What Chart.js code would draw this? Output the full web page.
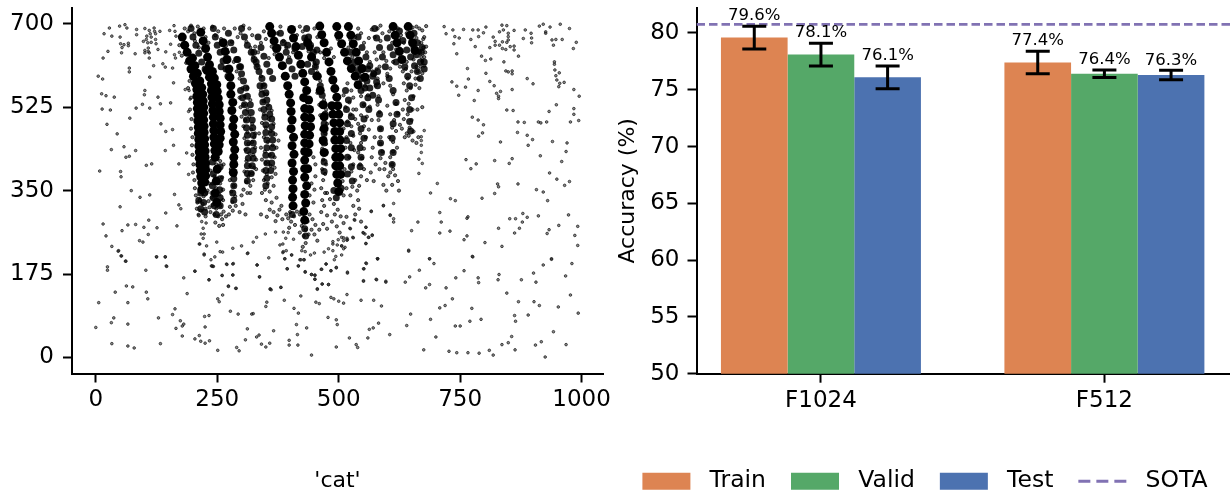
<!DOCTYPE html>
<html>
<head>
<meta charset="utf-8">
<script src="https://cdn.jsdelivr.net/npm/chart.js@4/dist/chart.umd.js"></script>
<style>
html, body { margin: 0; padding: 0; background: #fff; overflow: hidden; width: 1230px; height: 494px; }
canvas { position: absolute; top: 0; }
#scatter-chart { left: 0; }
#accuracy-chart { left: 605px; }
</style>
</head>
<body>
<canvas id="accuracy-chart" width="640" height="503"></canvas>
<canvas id="scatter-chart" width="615" height="494"></canvas>
<script>
// scatter values, flat x,y pairs
const catSparse = [
6,115, 0,63, 24,190, 24,183, 40,137, 32,73, 37,83, 33,29, 63,150, 76,148, 62,202, 52,213, 46,223, 66,115, 66,70, 66,24, 79,20, 103,183, 104,137, 107,123,
125,211, 143,211, 146,191, 129,83, 133,29, 158,90, 163,102, 165,61, 174,77, 178,66, 181,70, 178,45, 181,167, 188,134, 204,181, 204,39, 213,46, 216,34, 225,30, 224,86,
233,88, 225,64, 234,35, 233,163, 238,192, 241,191, 251,15, 251,123, 254,117, 261,131, 260,172, 270,195, 282,196, 282,173, 273,149, 288,145, 277,97, 293,91, 290,21, 295,14,
308,37, 312,60, 321,91, 324,92, 312,218, 332,194, 337,169, 331,43, 336,47, 341,28, 350,22, 358,30, 350,107, 352,116, 359,143, 361,142, 366,56, 381,147, 388,120, 398,36,
398,26, 408,103, 417,93, 413,69, 415,48, 416,26, 434,62, 422,129, 431,179, 444,5, 394,186, 417,192, 422,205, 428,205, 389,207, 403,215, 444,174, 451,172, 451,164, 456,143,
466,154, 479,153, 453,116, 460,113, 484,126, 490,123, 500,118, 510,114, 478,84, 495,79, 497,69, 495,22, 522,41, 536,27, 539,21, 517,132, 518,177, 465,185, 474,196, 484,182,
495,188, 546,120, 551,160, 552,186, 557,197, 560,41, 563,59, 571,62, 572,120, 578,163, 580,207, 582,72, 588,108, 597,158, 605,48, 637,158, 646,169, 644,223, 640,67, 648,91,
666,183, 675,16, 679,146, 687,153, 687,207, 696,197, 689,80, 700,43, 708,104, 719,109, 721,146, 734,123, 727,13, 740,66, 750,66, 743,10, 741,167, 758,182, 775,212, 766,10,
770,76, 774,103, 789,9, 787,167, 788,157, 793,80, 810,15, 818,5, 830,174, 828,163, 836,27, 846,135, 849,31, 856,44, 862,88, 864,76, 863,16, 870,117, 876,163, 890,89,
901,177, 906,158, 902,117, 913,109, 905,26, 917,33, 925,1, 921,194, 938,206, 942,54, 952,106, 967,171, 968,27, 977,131, 980,197, 993,93,
717,694, 721,679, 735,687, 739,673, 737,658, 748,670, 757,688, 772,667, 776,687, 787,687, 798,681, 803,693, 788,673, 781,652, 743,637, 794,632, 802,623, 813,626, 811,650, 818,672,
822,663, 822,655, 831,655, 831,683, 836,697, 839,687, 846,696, 849,680, 849,673, 849,666, 837,662, 846,661, 837,648, 844,646, 853,652, 861,653, 861,645, 861,686, 870,632, 840,620,
880,669, 884,687, 896,680, 897,670, 897,660, 913,695, 921,699, 926,683, 926,680, 935,693, 956,699, 975,690, 939,666, 947,667, 960,667, 942,655, 989,661, 983,648,
944,620, 944,615, 945,603, 947,591, 954,597, 949,582, 955,575, 964,577, 953,568, 765,606, 803,596, 844,601, 849,599, 857,601, 857,595, 767,584, 733,578, 743,569, 761,567,
811,579, 820,570, 888,585, 900,574, 857,562, 787,560, 747,550, 825,554, 833,558, 829,548, 829,543, 779,539, 984,562, 995,548, 948,530, 984,522, 984,510, 994,497, 977,494, 933,516,
846,519, 859,518, 775,504, 787,498, 798,488, 869,494, 882,493, 911,494, 916,492, 928,494, 796,471, 788,464, 868,472, 888,466, 899,457, 890,445, 833,452, 940,453, 970,450, 968,432,
915,423, 959,411, 762,415, 772,396, 783,406, 821,413, 851,407, 857,417, 934,387, 949,374, 975,369, 965,361, 869,364, 827,364, 829,358, 821,344, 907,352, 921,347, 930,329, 795,334,
703,365, 689,345, 730,333, 740,329, 708,304, 711,284, 708,261, 729,265, 766,295, 764,292, 852,291, 864,291, 879,302, 888,294, 878,284, 911,297, 973,299, 829,271, 872,271, 862,261,
953,277, 933,268, 929,260, 992,275, 986,256, 992,235, 764,255, 758,247, 801,241, 836,233, 644,225, 776,211, 938,207, 687,207, 580,207,
676,476, 670,463, 670,455, 670,445, 670,430, 665,416, 672,407, 665,386, 613,323, 592,318, 567,306, 606,298, 613,291, 613,284, 663,284, 650,266, 556,273, 551,261, 569,256, 561,252,
556,239, 533,288, 530,251, 524,270, 510,251, 517,246, 506,234, 510,228,
28,691, 49,695, 60,698, 64,691, 17,679, 33,674, 50,672, 84,688, 84,677, 101,690, 110,686, 120,691, 121,684, 112,679, 123,679, 132,684, 105,674, 114,672, 104,667, 98,663,
114,661, 123,667, 124,658, 51,658, 58,656, 67,659, 67,654, 54,650, 107,660, 108,649, 128,646, 101,644, 108,642, 101,639, 110,639, 25,642, 53,639, 81,637, 144,641, 154,657,
152,686, 161,696, 163,684, 165,674, 172,640, 162,635, 164,628, 15,628, 110,628, 119,612, 138,616, 143,609, 158,607, 69,607, 69,599, 5,590, 14,584, 111,588, 160,576, 184,562,
101,560, 100,551, 12,553, 21,549, 38,546, 128,546, 154,534, 133,532, 96,531, 83,523, 111,523, 13,521, 30,519, 70,502, 23,489, 134,490, 158,478, 144,474, 44,469, 192,560,
194,542, 191,516, 32,436, 58,442, 82,434, 62,420, 69,422, 160,445, 143,434, 187,429, 104,403, 115,406, 171,406, 8,391, 51,390, 52,379, 191,384, 73,350, 111,341, 91,336,
162,342, 50,316, 171,320, 175,312, 144,303, 109,288, 15,280, 66,278, 82,279, 99,273, 126,272, 167,276, 54,266, 108,258, 21,255, 90,245, 97,242, 214,238, 33,233, 47,224,
53,213, 61,202, 125,211, 143,211, 223,215, 145,192,
211,300, 227,282, 218,285, 221,271, 217,259, 223,259, 221,250, 213,238, 228,234, 249,242, 223,217, 237,205, 245,211, 256,222, 261,221, 282,229, 300,234, 313,219, 269,196, 283,197,
239,192, 242,191, 204,181, 233,163, 260,172, 282,173, 332,194, 337,169, 356,209, 389,207, 394,186, 273,150, 289,145, 359,144, 381,147, 324,242, 331,252, 349,259, 370,263, 386,263,
396,262, 391,250, 407,248, 385,238, 379,236, 386,222, 392,224, 403,215, 385,220, 424,224, 431,222, 442,215, 450,219, 470,221, 479,228, 488,224, 494,212, 506,215, 491,205, 420,205,
429,205, 417,192, 431,180, 444,174, 451,173, 451,164, 464,185, 474,196, 484,182, 495,189, 518,179, 551,186, 556,198, 580,207, 551,161, 577,164, 597,160, 466,154, 479,153, 456,144,
523,271, 532,289, 550,262, 554,259, 556,273, 569,257, 562,252, 556,239, 529,252, 517,250, 510,245, 499,247, 497,236, 488,243, 488,238, 518,247, 506,252, 506,234, 513,231, 567,307, 592,319, 606,299
];
const catStreaks = [
// upper band
183,690, 190,684, 196,696, 203,680, 210,694, 176,668, 172,655, 181,650, 190,640, 177,633, 186,618, 194,628, 204,664, 212,650, 222,690, 226,672, 232,660, 240,694, 246,676, 252,684,
258,668, 264,690, 268,654, 272,640, 280,662, 286,690, 292,672, 298,680, 304,696, 310,662, 316,690, 322,676, 328,652, 334,640, 340,660, 346,684, 350,668, 362,652, 368,636, 356,628,
374,680, 380,694, 386,664, 392,650, 398,630, 406,640, 414,676, 420,694, 426,684, 432,668, 438,642, 444,652, 450,690, 456,672, 446,625, 452,610, 462,640, 470,628, 484,648, 490,630,
498,668, 504,654, 510,640, 516,626, 524,666, 530,650, 534,672, 540,690, 546,680, 552,660, 558,640, 564,620, 570,600, 546,600, 552,584, 562,670, 568,688, 574,672, 580,690, 586,664,
592,640, 598,622, 604,684, 610,660, 618,646, 624,670, 634,660, 640,680, 648,664, 654,648, 660,670, 666,690, 670,660, 674,650, 676,630, 672,622, 668,610, 662,600, 654,625, 640,620,
632,600, 626,610, 612,620, 606,606, 600,595, 592,575, 584,610, 578,625, 574,640, 590,680, 586,696, 622,690, 628,676, 652,692, 660,694, 680,695, 672,686, 676,672, 668,640, 658,585,
// streak A fringe and tail
193,580, 190,565, 196,545, 194,520, 197,500, 196,480, 199,462, 198,445, 199,425, 201,405, 200,388, 203,372, 204,355, 206,340, 209,325, 208,312, 214,330, 222,338, 228,345, 220,322,
226,312, 216,308, 232,328, 234,315, 212,298, 226,296, 238,335, 230,350, 233,365, 229,380, 230,400,
// streak B lower part
240,420, 248,405, 256,412, 263,405, 236,392, 244,380, 252,390, 260,378, 240,365, 248,355, 256,365, 262,352, 238,345, 246,335, 254,342, 262,330, 240,320, 248,312, 256,318, 263,306,
244,300, 252,296, 260,290, 246,283, 254,276, 268,296, 274,300, 262,278, 236,305, 258,300,
// streak C tail
278,395, 286,382, 276,372, 284,360, 279,348, 287,338, 281,326, 288,318, 282,308, 276,316,
// streak D
284,620, 290,600, 296,585, 302,565, 306,548, 296,545, 298,525, 305,530, 312,520, 300,505, 308,498, 316,505, 322,490, 304,485, 312,472, 320,478, 326,462, 306,460, 314,448, 322,452,
328,440, 308,436, 316,428, 324,425, 330,415, 310,412, 318,402, 326,398, 306,390, 314,380, 322,386, 310,368, 318,360, 324,372, 304,352, 312,345, 300,340, 302,322, 296,305, 308,300, 318,345,
330,395, 328,470, 318,540, 312,565,
// streak E
318,650, 324,630, 332,612, 340,590, 346,572, 352,552, 340,560, 345,538, 354,530, 362,518, 338,520, 346,510, 356,500, 366,490, 342,492, 350,482, 360,475, 370,468, 336,470, 346,462,
354,452, 364,445, 372,440, 340,440, 348,432, 358,425, 368,420, 376,455, 342,415, 350,408, 360,402, 368,398, 344,392, 352,385, 362,378, 346,372, 354,365, 348,352, 358,348, 370,385,
342,345, 366,360, 350,330, 362,325, 372,335, 382,318, 366,305, 374,298, 384,290, 370,286, 378,310, 392,300, 340,300, 352,295, 358,310,
// streak F and G tails
400,305, 408,296, 402,285, 410,278, 398,272, 396,292, 414,306, 420,300, 428,292, 436,285, 424,276, 432,268, 420,262, 428,255, 432,240, 426,232, 440,300, 446,290, 452,278, 444,268,
438,258, 450,258, 460,268, 456,245, 448,325, 440,340, 450,352, 444,365, 452,380, 440,392, 452,405, 448,420,
// streak H
438,650, 444,636, 450,618, 456,598, 462,580, 466,560, 456,555, 470,540, 460,530, 474,520, 462,508, 470,500, 476,490, 464,478, 472,470, 464,458, 474,448, 466,438, 472,428, 468,415,
474,405, 466,395, 472,385, 468,372, 464,355, 472,345, 466,330, 470,318, 464,305, 476,298, 468,280, 476,270,
// streak I fringe
482,332, 490,322, 498,310, 504,296, 492,300, 486,285, 496,275, 502,262, 510,282, 516,295, 510,340, 516,355, 476,345, 508,370, 512,395, 508,420, 514,440, 516,462, 510,480, 518,495,
524,510, 514,525, 522,535, 510,550, 526,560, 518,575, 530,545, 530,520, 534,500, 526,485, 530,465, 524,450, 532,435, 522,420, 530,405, 526,390, 534,372, 528,358, 524,340, 538,350,
540,330, 530,318, 542,312, 534,300, 546,285,
// streak J
520,650, 528,630, 536,610, 546,590, 554,570, 540,572, 560,550, 546,548, 552,530, 564,526, 536,520, 546,508, 558,505, 568,498, 540,490, 552,485, 562,478, 544,470, 556,462, 546,450,
552,438, 540,430, 548,418, 544,405, 552,395, 546,380, 558,372, 566,388, 542,360, 570,440, 574,462, 568,420, 576,405, 584,395, 572,370,
// streak L
578,605, 580,585, 576,570, 582,548, 580,530, 584,515, 582,498, 586,480, 586,462, 586,448, 590,432, 586,418, 594,395, 596,408, 602,380, 592,362, 598,350,
// streak M
600,590, 606,570, 612,552, 618,532, 622,512, 614,498, 606,510, 600,528, 610,482, 618,475, 626,488, 604,462, 612,452, 620,440, 612,432, 606,420, 610,405, 612,395, 616,382, 606,388,
622,370, 610,362, 624,350, 636,462, 630,480, 634,500, 640,470,
// streak N and O
618,668, 626,648, 630,625, 638,605, 642,585, 648,565, 640,560, 654,548, 644,532, 652,520, 642,510, 650,498, 646,482, 654,474, 644,465, 652,455, 660,450, 664,462, 662,520, 672,525,
648,690, 656,660, 666,642, 670,630, 676,612, 672,596, 664,585, 678,640, 680,652, 674,668, 660,610, 666,565, 658,572, 650,600, 636,540, 632,520, 634,575
];
// overlapping points in the darker strands
const catMass = [
290,625, 296,610, 300,595, 304,580, 309,565, 298,560, 312,548, 302,545, 306,530, 318,530, 308,514, 320,514, 310,498, 322,498, 310,482, 323,482, 312,466, 324,466, 312,450, 324,450,
312,434, 324,434, 314,418, 324,418, 312,402, 322,402, 312,386, 320,386, 312,370,
325,640, 330,620, 336,600, 342,585, 346,570, 338,570, 350,555, 342,552, 352,540, 344,536, 356,525, 346,520, 358,510, 348,504, 362,500, 350,488, 362,484, 350,472, 362,470, 352,456,
364,456, 352,440, 364,440, 350,424, 362,424, 352,408, 362,408, 350,392, 360,392, 352,376, 350,360,
440,650, 446,630, 452,610, 458,590, 462,570, 466,550, 470,530, 472,510, 470,490, 470,470, 470,450, 472,430, 470,410, 470,390,
514,560, 520,540, 516,520, 526,505, 518,490, 526,470, 516,455, 526,440, 518,420, 526,400, 518,385, 528,370,
524,640, 532,620, 540,600, 548,585, 554,565, 560,545, 546,560, 550,530, 562,520, 552,500, 546,480, 552,460, 544,440, 546,420, 544,400,
558,580, 564,565, 570,550, 560,605, 570,590,
580,600, 580,570, 582,540, 584,510, 586,480, 586,450, 588,430,
604,585, 612,560, 618,535, 620,510, 612,490, 610,460, 612,430, 610,405,
636,610, 642,590, 646,570, 650,545, 646,520, 646,495, 648,475,
660,635, 668,620, 676,605, 655,650, 672,650,
196,690, 200,672, 206,655, 212,638, 218,620, 225,605,
242,690, 246,672, 250,655, 256,640, 262,622, 268,605, 272,590, 258,610,
273,680, 278,660, 284,645, 292,625, 298,610,
300,690, 306,672, 312,655, 320,640, 326,625, 332,610,
334,672, 340,650, 346,632, 352,615, 358,600, 364,585,
380,680, 386,660, 392,640, 398,622, 404,605, 410,590,
434,690, 438,672, 442,655, 448,640, 454,620, 430,670, 444,600, 436,615,
375,650, 395,655, 410,648, 425,652, 440,650, 455,645,
540,672, 548,650, 556,630, 564,612, 572,595, 578,578,
574,690, 578,670, 584,650, 590,630, 596,610,
600,670, 606,650, 612,635, 618,620,
625,685, 632,665, 640,645, 648,630, 656,612, 662,600, 668,585,
655,680, 662,660, 670,640, 676,620,
240,410, 256,400, 242,385, 256,375, 240,360, 255,352, 242,335, 256,335, 244,318, 256,318, 248,300,
284,375, 284,360, 282,345, 284,330,
216,345, 224,345, 212,330, 222,325, 216,312, 224,305,
490,350, 505,355, 495,335, 404,300, 430,270, 432,255
];
const catCore = [
// streak A
178,672, 183,655, 188,640, 193,622, 199,628, 196,605, 204,612, 201,590, 209,596, 205,575, 214,580, 208,562, 218,566, 208,548, 220,552, 209,535, 221,538, 209,522, 222,525, 210,509, 222,512, 210,496, 222,498,
211,483, 223,485, 211,470, 223,472, 212,457, 224,459, 212,444, 224,446, 213,431, 225,433, 213,418, 225,420, 214,405, 226,407, 215,392, 226,394, 216,379, 226,381, 218,366, 224,368, 218,352,
// streak B
216,682, 221,664, 226,648, 230,630, 234,614, 229,602, 240,600, 234,588, 244,586, 238,574, 249,572, 238,560, 250,558, 239,546, 252,544, 240,532, 254,530, 241,518, 254,516, 242,504, 256,502,
242,490, 256,488, 243,476, 257,474, 243,462, 256,460, 244,448, 254,446, 245,434, 252,432, 246,420, 250,395, 248,370, 246,345, 249,325,
// streak C
262,660, 266,642, 270,625, 274,605, 276,588, 278,570, 278,552, 282,535, 280,518, 284,500, 282,484, 286,468, 283,452, 286,436, 284,420, 284,405, 283,388,
// streak F
358,694, 362,680, 367,664, 372,648, 378,630, 384,612, 390,590, 395,570, 398,552, 401,534, 402,516, 404,498, 402,480, 407,462, 404,444, 408,426, 404,408, 407,390, 405,372, 406,354, 405,336, 406,318,
// streak G
403,688, 407,670, 412,652, 417,634, 422,615, 426,596, 430,578, 434,560, 428,545, 438,540, 430,522, 440,520, 430,504, 442,502, 431,486, 442,484, 430,468, 440,466, 430,450, 439,448, 430,432, 437,430, 430,414, 436,396,
430,396, 430,378, 434,360, 430,342, 432,324, 428,306, 430,288,
// streak H
436,660, 444,630, 455,590, 462,560, 468,530, 470,505, 470,480, 468,455, 470,430,
// streak I
461,695, 465,677, 470,660, 475,640, 480,620, 484,600, 488,582, 492,564, 496,546, 486,528, 498,528, 488,510, 500,510, 490,492, 502,492, 492,474, 502,474, 492,456, 503,456, 494,438, 504,438, 494,420,
502,420, 494,402, 502,402, 496,384, 504,384, 498,366, 500,348,
// streak J, K
496,694, 500,676, 506,658, 512,640, 518,622, 526,606, 534,590, 540,572, 520,694, 525,676, 530,658, 536,640, 541,622, 548,606, 554,588,
// streak N, O
612,694, 616,676, 620,660, 625,642, 630,625, 643,694, 647,676, 652,660, 657,644
];

const accuracyCategories = ["F1024", "F512"];
const trainValues = [79.6, 77.4];
const validValues = [78.1, 76.4];
const testValues = [76.1, 76.3];
const trainErrors = [1.0, 1.0];
const validErrors = [1.0, 0.33];
const testErrors = [1.0, 0.42];
const sotaValue = 80.75;

const scatterXTicks = [0, 250, 500, 750, 1000];
const scatterYTicks = [0, 175, 350, 525, 700];
const accuracyYTicks = [50, 55, 60, 65, 70, 75, 80];

const fontFamily = "'DejaVu Sans'";
const orange = "#dd8452";
const green = "#55a868";
const blue = "#4c72b0";
const purple = "#8172b3";

function toPoints(flat) {
    let points = [];
    for (let i = 0; i < flat.length; i += 2) {
        points.push({ x: flat[i], y: flat[i + 1] });
    }
    return points;
}

// fixed axis box, chart.js would otherwise size it from the labels
function fixBox(size, prop) {
    return function (scale) {
        scale[prop] = size;
        scale.paddingLeft = 0;
        scale.paddingRight = 0;
        scale.paddingTop = 0;
        scale.paddingBottom = 0;
    };
}

function axisStyle() {
    return {
        offset: false,
        border: { display: true, color: "#000", width: 2 },
        grid: { offset: false, drawOnChartArea: false, drawTicks: true, tickLength: 9, tickWidth: 2, tickColor: "#000" },
    };
}

new Chart(document.getElementById("scatter-chart"), {
    type: "scatter",
    data: {
        datasets: [
            { data: toPoints(catCore), pointRadius: 4.5, pointBorderWidth: 0, pointBackgroundColor: "#000" },
            { data: toPoints(catMass), pointRadius: 3.5, pointBorderWidth: 0, pointBackgroundColor: "rgba(0,0,0,0.85)" },
            { data: toPoints(catStreaks), pointRadius: 1.6, pointBorderWidth: 0.8, pointBackgroundColor: "rgba(0,0,0,0.5)", pointBorderColor: "#111" },
            { data: toPoints(catSparse), pointRadius: 1.3, pointBorderWidth: 0.8, pointBackgroundColor: "rgba(0,0,0,0.45)", pointBorderColor: "#222" },
        ],
    },
    options: {
        responsive: false,
        animation: false,
        layout: { padding: { top: 8, right: 12, left: 0, bottom: 0 } },
        plugins: { legend: false, tooltip: { enabled: false } },
        scales: {
            x: Object.assign(axisStyle(), {
                type: "linear",
                min: -49,
                max: 1044,
                afterBuildTicks: function (scale) { scale.ticks = scatterXTicks.map(function (v) { return { value: v }; }); },
                afterFit: fixBox(120.5, "height"),
                ticks: { color: "#000", font: { family: fontFamily, size: 23 }, padding: 4, maxRotation: 0, callback: function (v) { return String(v); } },
                title: { display: true, text: "'cat'", color: "#000", font: { family: fontFamily, size: 22 }, padding: 0 },
            }),
            y: Object.assign(axisStyle(), {
                type: "linear",
                min: -33.6,
                max: 733,
                afterBuildTicks: function (scale) { scale.ticks = scatterYTicks.map(function (v) { return { value: v }; }); },
                afterFit: fixBox(72, "width"),
                ticks: { color: "#000", font: { family: fontFamily, size: 23 }, padding: 9, callback: function (v) { return String(v); } },
            }),
        },
    },
});

const errorBars = {
    id: "errorBars",
    afterDatasetsDraw: function (chart) {
        let ctx = chart.ctx;
        let y = chart.scales.y;
        ctx.save();
        chart.data.datasets.forEach(function (dataset, d) {
            if (!dataset.errors) {
                return;
            }
            chart.getDatasetMeta(d).data.forEach(function (bar, i) {
                let top = y.getPixelForValue(dataset.data[i].y + dataset.errors[i]);
                let bottom = y.getPixelForValue(dataset.data[i].y - dataset.errors[i]);
                ctx.strokeStyle = "#000";
                ctx.lineWidth = 3;
                ctx.beginPath();
                ctx.moveTo(bar.x, top);
                ctx.lineTo(bar.x, bottom);
                ctx.moveTo(bar.x - 12, top);
                ctx.lineTo(bar.x + 12, top);
                ctx.moveTo(bar.x - 12, bottom);
                ctx.lineTo(bar.x + 12, bottom);
                ctx.stroke();
                ctx.fillStyle = "#000";
                ctx.font = "16.5px " + fontFamily;
                ctx.textAlign = "center";
                ctx.textBaseline = "middle";
                ctx.fillText(dataset.data[i].y.toFixed(1) + "%", bar.x, top - 10);
            });
        });
        ctx.restore();
    },
};

function barSeries(label, values, errors, color) {
    return {
        label: label,
        data: values.map(function (v, i) { return { x: i, y: v }; }),
        errors: errors,
        backgroundColor: color,
        borderWidth: 0,
        barPercentage: 1,
        categoryPercentage: 0.7055,
    };
}

const xMin = -0.439;
const xMax = 1.496;

new Chart(document.getElementById("accuracy-chart"), {
    type: "bar",
    data: {
        datasets: [
            barSeries("Train", trainValues, trainErrors, orange),
            barSeries("Valid", validValues, validErrors, green),
            barSeries("Test", testValues, testErrors, blue),
            {
                type: "line",
                label: "SOTA",
                data: [{ x: xMin, y: sotaValue }, { x: xMax, y: sotaValue }],
                borderColor: purple,
                borderWidth: 2.8,
                borderDash: [8.5, 4],
                pointRadius: 0,
            },
        ],
    },
    plugins: [errorBars],
    options: {
        responsive: false,
        animation: false,
        layout: { padding: { top: 8, right: 0, left: 0, bottom: 0 } },
        plugins: {
            tooltip: { enabled: false },
            legend: {
                position: "bottom",
                labels: {
                    usePointStyle: true,
                    pointStyleWidth: 48,
                    boxHeight: 17,
                    padding: 25,
                    color: "#000",
                    font: { family: fontFamily, size: 23.5 },
                    generateLabels: function (chart) {
                        return chart.data.datasets.map(function (dataset, i) {
                            let isLine = dataset.type === "line";
                            return {
                                text: " " + dataset.label,
                                datasetIndex: i,
                                pointStyle: isLine ? "line" : "rect",
                                fillStyle: isLine ? purple : dataset.backgroundColor,
                                strokeStyle: isLine ? purple : dataset.backgroundColor,
                                lineWidth: isLine ? 3 : 0,
                                lineDash: isLine ? [12, 6] : [],
                                fontColor: "#000",
                            };
                        });
                    },
                },
            },
        },
        scales: {
            x: Object.assign(axisStyle(), {
                type: "linear",
                min: xMin,
                max: xMax,
                afterBuildTicks: function (scale) { scale.ticks = accuracyCategories.map(function (c, i) { return { value: i }; }); },
                afterFit: fixBox(70.8, "height"),
                ticks: {
                    color: "#000",
                    font: { family: fontFamily, size: 23 },
                    padding: 5,
                    maxRotation: 0,
                    callback: function (v) { return accuracyCategories[v]; },
                },
            }),
            y: Object.assign(axisStyle(), {
                type: "linear",
                min: 50,
                max: 82.2,
                afterBuildTicks: function (scale) { scale.ticks = accuracyYTicks.map(function (v) { return { value: v }; }); },
                afterFit: fixBox(91.5, "width"),
                ticks: { color: "#000", font: { family: fontFamily, size: 23 }, padding: 8, callback: function (v) { return String(v); } },
                title: { display: true, text: "Accuracy (%)", color: "#000", font: { family: fontFamily, size: 22, lineHeight: 1 }, padding: { top: 12, bottom: 0 } },
            }),
        },
    },
});
</script>
</body>
</html>
